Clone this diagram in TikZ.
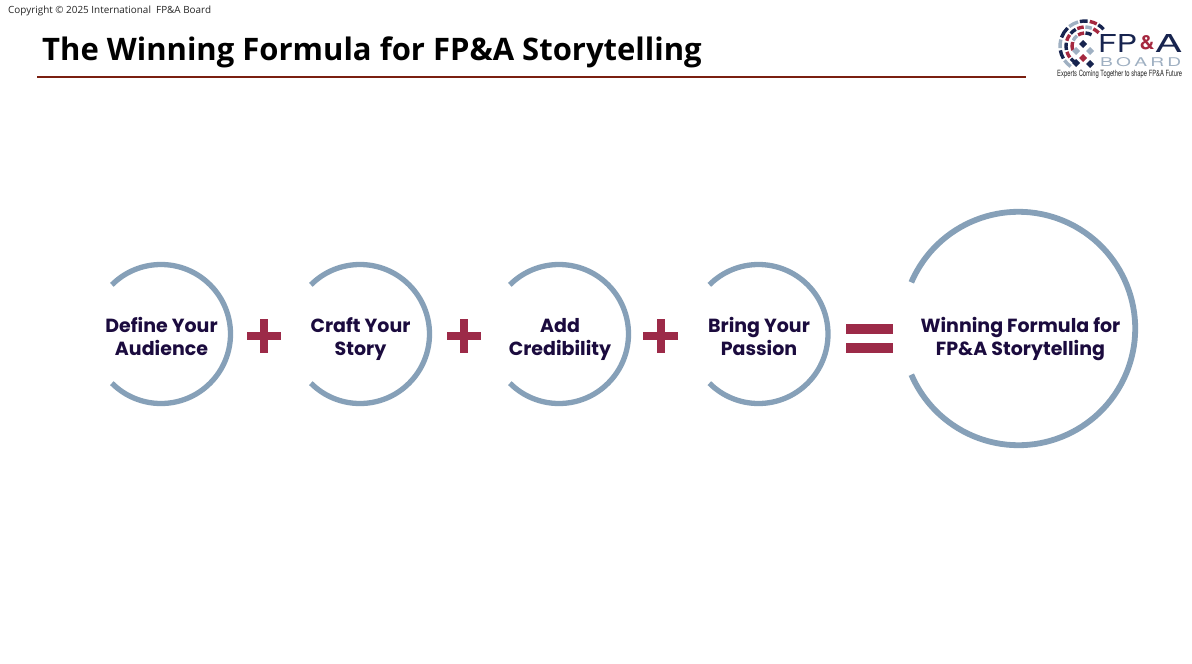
\documentclass[tikz,border=0pt]{standalone}
\usepackage{fontspec}
\setmainfont{Open Sans}
\newfontfamily\poppinsf{Poppins}
\newfontfamily\heros{TeX Gyre Heros}
\definecolor{ringc}{HTML}{86A0B8}
\definecolor{opc}{HTML}{9C2A48}
\definecolor{inkc}{HTML}{1B0B3E}
\definecolor{rulec}{HTML}{7A1F10}
\definecolor{navyc}{HTML}{17244F}
\definecolor{logored}{HTML}{A5283F}
\definecolor{loggrey}{HTML}{9FB0C2}
\tikzset{
  ringarc/.style={draw=ringc,line width=5.3pt},
  bigarc/.style={draw=ringc,line width=5.8pt},
  oplabel/.style={fill=opc,draw=none},
  steptext/.style={align=center,text=inkc,font=\poppinsf\bfseries\fontsize{19}{23}\selectfont,inner sep=0pt},
}
\begin{document}
\begin{tikzpicture}[x=1pt,y=-1pt]
\useasboundingbox (0,0) rectangle (1192,664);
\fill[white] (0,0) rectangle (1192,664);
\node[anchor=west,inner sep=0pt,font=\fontsize{9.9}{11}\selectfont,text=black!85] (copy) at (8,11) {Copyright © 2025 International\ \ FP\&A Board};
\node[anchor=west,inner sep=0pt,font=\bfseries\fontsize{31}{36}\selectfont] (title) at (42,52) {The Winning Formula for FP\&A Storytelling};
\coordinate (ruleL) at (37,76.7); \coordinate (ruleR) at (1026,76.7);
\draw[rulec,line width=1.6pt] (ruleL) -- (ruleR);
% rings
\foreach \cx in {161,360,559,758.5}{
  \draw[ringarc] (\cx,334) ++(135:69.5 and -69.5) arc[start angle=135,end angle=-135,radius=69.5,y radius=-69.5];
}
\draw[bigarc] (1018.5,328.5) ++(156.7:116.7 and -116.7) arc[start angle=156.7,end angle=-156.7,radius=116.7,y radius=-116.7];
\node[steptext] (t1) at (161.5,339.2) {\strut Define Your\\\strut Audience};
\node[steptext] (t2) at (360.5,339.2) {\strut Craft Your\\\strut Story};
\node[steptext] (t3) at (560,339.2) {\strut Add\\\strut Credibility};
\node[steptext] (t4) at (759,339.2) {\strut Bring Your\\\strut Passion};
\node[steptext] (t5) at (1020.5,339.2) {\strut Winning Formula for\\\strut FP\&A Storytelling};
% plus signs
\foreach \px in {264,464,660.5}{
  \fill[oplabel] (\px-17.3,332.3) rectangle (\px+17.3,340);
  \fill[oplabel] (\px-4,319) rectangle (\px+4,353);
}
\fill[oplabel] (846,324) rectangle (892.5,334);
\fill[oplabel] (846,342.5) rectangle (892.5,352.5);
% swirl of the logo, drawn as short thick arcs
\foreach \a/\b/\r/\c in {
 200/226/25/navyc,231/254/25/loggrey,258/276/25/navyc,281/298/25/logored,302/318/25/navyc,
 175/195/25/loggrey,150/170/25/navyc,125/145/25/loggrey,
 196/216/19/logored,221/241/19/navyc,246/266/19/logored,271/291/19/loggrey,296/316/19/logored,
 168/190/19/navyc,143/162/19/logored,120/138/19/navyc,
 205/232/13/loggrey,238/266/13/logored,272/300/13/navyc,160/198/13/logored}{
  \draw[\c,line width=3.4pt] (1085,46) ++(\a:\r) arc[start angle=\a,end angle=\b,radius=\r];
}
\foreach \x/\y/\c in {1083/44/navyc,1090/51/loggrey,1076/51/loggrey,1083/58/logored,1090/64/navyc,1076/63/navyc}{
  \fill[\c] (\x,\y-4) -- (\x+4,\y) -- (\x,\y+4) -- (\x-4,\y) -- cycle;
}
\node[anchor=base west,inner sep=0pt,text=navyc,font=\heros] (fp) at (1098,52) {\resizebox{39pt}{18pt}{FP}};
\node[anchor=base west,inner sep=0pt,text=logored,font=\heros\bfseries] (amp) at (1139.5,49) {\resizebox{15pt}{14pt}{\&}};
\node[anchor=base west,inner sep=0pt,text=navyc,font=\heros] (aa) at (1155,52) {\resizebox{27pt}{18pt}{A}};
\node[anchor=base west,inner sep=0pt,text=loggrey,font=\heros] (board) at (1100,66) {\resizebox{81pt}{9pt}{B\,O\,A\,R\,D}};
\node[anchor=base west,inner sep=0pt,text=black!85,font=\heros] (tag) at (1057,76) {\resizebox{125pt}{6.4pt}{Experts Coming Together to shape FP\&A Future}};
\end{tikzpicture}
\end{document}
